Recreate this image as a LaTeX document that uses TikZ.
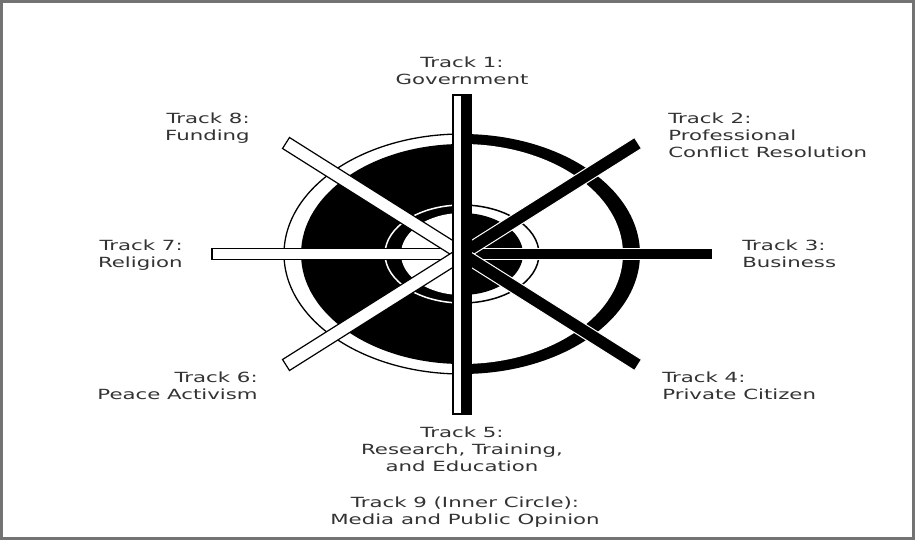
\documentclass[tikz,border=0pt]{standalone}
\usepackage{fontspec}
\setmainfont{DejaVu Sans}
\usetikzlibrary{calc}
\tikzset{
  lbl/.style={font=\fontsize{14}{17}\selectfont, text=black!80, xscale=1.52, inner sep=0pt},
  wspoke/.style={fill=white, draw=black, line width=1.2pt, line join=miter},
  bspoke/.style={fill=black, draw=white, line width=1pt, line join=miter},
  frameline/.style={draw=black!55, line width=3pt},
}
\newcommand\spokepoly[4]{\path[#1] ($(#2)!#4!90:(#3)$) -- ($(#3)!#4!-90:(#2)$) -- ($(#3)!#4!90:(#2)$) -- ($(#2)!#4!-90:(#3)$) -- cycle;}
\begin{document}
\begin{tikzpicture}[x=1pt,y=-1pt]
\useasboundingbox (0,0) rectangle (915,540);
\fill[white] (0,0) rectangle (915,540);
\coordinate (C) at (462,254);
\coordinate (E7) at (212,254);
\coordinate (E3) at (712,254);
\coordinate (E8) at (286,143);
\coordinate (E2) at (638,143);
\coordinate (E6) at (286,365);
\coordinate (E4) at (638,365);
% left half (positive)
\begin{scope}
\clip (0,0) rectangle (462,540);
\fill[white, draw=black, line width=1.3pt] (C) ellipse [x radius=178, y radius=120];
\fill[black] (C) ellipse [x radius=161, y radius=110];
\draw[white, line width=1.5pt] (C) ellipse [x radius=77, y radius=49];
\fill[white] (C) ellipse [x radius=61, y radius=41];
\end{scope}
% right half (negative)
\begin{scope}
\clip (462,0) rectangle (915,540);
\fill[black] (C) ellipse [x radius=178, y radius=120];
\fill[white] (C) ellipse [x radius=161, y radius=110];
\draw[black, line width=1.5pt] (C) ellipse [x radius=77, y radius=49];
\fill[black] (C) ellipse [x radius=61, y radius=41];
\end{scope}
% spokes
\spokepoly{wspoke}{C}{E7}{5.5pt}
\spokepoly{wspoke}{C}{E8}{6.5pt}
\spokepoly{wspoke}{C}{E6}{6.5pt}
\spokepoly{bspoke}{C}{E3}{5.5pt}
\spokepoly{bspoke}{C}{E2}{6.5pt}
\spokepoly{bspoke}{C}{E4}{6.5pt}
% vertical bar
\draw[wspoke] (453,95) rectangle (462,414);
\fill[black] (462,95) rectangle (471,414);
\draw[black, line width=1.2pt] (453,95) rectangle (471,414);
% frame
\draw[frameline] (1.5,1.5) rectangle (913.5,538.5);
% labels
\node[lbl, anchor=north, align=center] (t1) at (462,57) {Track 1:\\Government};
\node[lbl, anchor=north east, align=right] (t8) at (250,113) {Track 8:\\Funding};
\node[lbl, anchor=north east, align=right] (t7) at (183,240) {Track 7:\\Religion};
\node[lbl, anchor=north east, align=right] (t6) at (258,372) {Track 6:\\Peace Activism};
\node[lbl, anchor=north west, align=left] (t2) at (668,113) {Track 2:\\Professional\\Conflict Resolution};
\node[lbl, anchor=north west, align=left] (t3) at (742,240) {Track 3:\\Business};
\node[lbl, anchor=north west, align=left] (t4) at (662,372) {Track 4:\\Private Citizen};
\node[lbl, anchor=north, align=center] (t5) at (462,427) {Track 5:\\Research, Training,\\and Education};
\node[lbl, anchor=north, align=center] (t9) at (465,497) {Track 9 (Inner Circle):\\Media and Public Opinion};
\end{tikzpicture}
\end{document}
